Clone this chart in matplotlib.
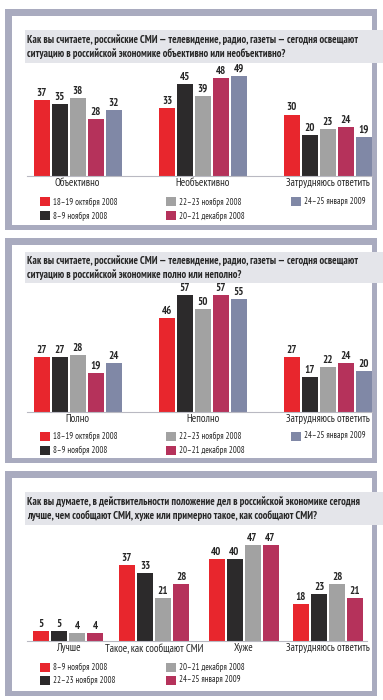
import matplotlib
matplotlib.use("Agg")
import matplotlib.pyplot as plt
from matplotlib.patches import Rectangle
from matplotlib import font_manager as fm
import numpy as np

# ---------------- data ----------------
q1_title = ("Как вы считаете, российские СМИ — телевидение, радио, газеты — сегодня освещают\n"
            "ситуацию в российской экономике объективно или необъективно?")
q1_categories = ["Объективно", "Необъективно", "Затрудняюсь ответить"]
q1_series = ["18–19 октября 2008", "8–9 ноября 2008", "22–23 ноября 2008",
             "20–21 декабря 2008", "24–25 января 2009"]
q1_oct18 = [37, 33, 30]
q1_nov8 = [35, 45, 20]
q1_nov22 = [38, 39, 23]
q1_dec20 = [28, 48, 24]
q1_jan24 = [32, 49, 19]

q2_title = ("Как вы считаете, российские СМИ — телевидение, радио, газеты — сегодня освещают\n"
            "ситуацию в российской экономике полно или неполно?")
q2_categories = ["Полно", "Неполно", "Затрудняюсь ответить"]
q2_series = ["18–19 октября 2008", "8–9 ноября 2008", "22–23 ноября 2008",
             "20–21 декабря 2008", "24–25 января 2009"]
q2_oct18 = [27, 46, 27]
q2_nov8 = [27, 57, 17]
q2_nov22 = [28, 50, 22]
q2_dec20 = [19, 57, 24]
q2_jan24 = [24, 55, 20]

q3_title = ("Как вы думаете, в действительности положение дел в российской экономике сегодня\n"
            "лучше, чем сообщают СМИ, хуже или примерно такое, как сообщают СМИ?")
q3_categories = ["Лучше", "Такое, как сообщают СМИ", "Хуже", "Затрудняюсь ответить"]
q3_series = ["8–9 ноября 2008", "22–23 ноября 2008", "20–21 декабря 2008", "24–25 января 2009"]
q3_nov8 = [5, 37, 40, 18]
q3_nov22 = [5, 33, 40, 23]
q3_dec20 = [4, 21, 47, 28]
q3_jan24 = [4, 28, 47, 21]

# ---------------- style ----------------
RED = "#e8262d"
BLACK = "#2c2a2b"
GREY = "#a2a2a2"
CRIMSON = "#b5325b"
BLUEGREY = "#8088a6"
FRAME = "#a9abbf"
BAND = "#e4e5ea"
TXT = "#262626"

installed = {f.name for f in fm.fontManager.ttflist}
narrow = None
for cand in ["PT Sans Narrow", "Roboto Condensed", "Fira Sans Condensed",
             "Archivo Narrow", "Liberation Sans Narrow"]:
    if cand in installed:
        narrow = cand
        break
FONT = ([narrow] if narrow else []) + ["DejaVu Sans"]
plt.rcParams["font.family"] = FONT

W, H = 383, 700
fig = plt.figure(figsize=(W / 100, H / 100), dpi=100)
fig.patch.set_facecolor("white")
renderer = fig.canvas.get_renderer()


def fr(x0, y0, x1, y1):
    return [x0 / W, 1 - y1 / H, (x1 - x0) / W, (y1 - y0) / H]


def rect(x0, y0, x1, y1, color, z=0):
    r = fr(x0, y0, x1, y1)
    fig.patches.append(Rectangle((r[0], r[1]), r[2], r[3], transform=fig.transFigure,
                                 facecolor=color, edgecolor="none", zorder=z))


def fit_size(text, target_px, weight="normal", base=8.0):
    t = fig.text(0, 0, text, fontsize=base, fontweight=weight)
    w = t.get_window_extent(renderer).width
    t.remove()
    return base * target_px / w


TITLE_SIZE = fit_size(q1_title.split("\n")[0], 331, "bold")
LABEL_SIZE = fit_size("Затрудняюсь ответить", 84)
LEG_SIZE = fit_size("18–19 октября 2008", 64)
VAL_SIZE = 7.8


def panel(top, bottom, band_top, band_bot, title):
    rect(5, top, 377, bottom, FRAME, 0)
    rect(12, top + 7, 372, bottom - 5, "white", 1)
    rect(25, band_top, 383, band_bot, BAND, 2)
    fig.text(27 / W, 1 - (band_top + (band_bot - band_top) / 2) / H, title,
             ha="left", va="center", fontsize=TITLE_SIZE, fontweight="bold",
             color=TXT, linespacing=1.3, zorder=3)


def chart(x0, x1, baseline, ymax, centers_px, cats, series_vals, colors, bar_px=16, step_px=18):
    scale = 2.05
    top = baseline - ymax * scale
    ax = fig.add_axes(fr(x0, top, x1, baseline))
    ax.set_zorder(5)
    ax.patch.set_alpha(0)
    ax.set_xlim(x0, x1)
    ax.set_ylim(0, ymax)
    n = len(series_vals)
    centers = np.array(centers_px, dtype=float)
    for i, (vals, c) in enumerate(zip(series_vals, colors)):
        xs = centers + (i - (n - 1) / 2) * step_px
        bars = ax.bar(xs, vals, width=bar_px, color=c, edgecolor="none")
        ax.bar_label(bars, labels=[str(v) for v in vals], padding=1.5,
                     fontsize=VAL_SIZE, fontweight="bold", color=TXT)
    for s in ["top", "left", "right"]:
        ax.spines[s].set_visible(False)
    ax.spines["bottom"].set_color("#b9b9c2")
    ax.spines["bottom"].set_linewidth(0.8)
    ax.set_yticks([])
    ax.set_xticks(centers)
    ax.set_xticklabels(cats, fontsize=LABEL_SIZE, color=TXT)
    ax.tick_params(axis="x", length=0, pad=1.5)
    return ax


def legend(labels, colors, rows_y, cols_x):
    for i, (lab, c) in enumerate(zip(labels, colors)):
        col, row = i // 2, i % 2
        x = cols_x[col]
        y = rows_y[row]
        rect(x, y - 4.5, x + 10, y + 4.5, c, 4)
        fig.text((x + 13) / W, 1 - y / H, lab, ha="left", va="center",
                 fontsize=LEG_SIZE, color=TXT, zorder=4)


c5 = [RED, BLACK, GREY, CRIMSON, BLUEGREY]
c4 = [RED, BLACK, GREY, CRIMSON]

# Panel 1
panel(9, 230, 30, 63, q1_title)
chart(27, 372, 176, 55, [77.5, 203, 327.5], q1_categories,
      [q1_oct18, q1_nov8, q1_nov22, q1_dec20, q1_jan24], c5)
legend(q1_series, c5, [202, 216], [40, 166, 291])

# Panel 2
panel(238, 463, 252, 283, q2_title)
chart(27, 372, 412, 60, [77.5, 203, 327.5], q2_categories,
      [q2_oct18, q2_nov8, q2_nov22, q2_dec20, q2_jan24], c5)
legend(q2_series, c5, [436, 450], [40, 166, 291])

# Panel 3
panel(471, 696, 492, 525, q3_title)
chart(27, 367, 641, 50, [68, 154, 243.5, 328], q3_categories,
      [q3_nov8, q3_nov22, q3_dec20, q3_jan24], c4)
legend(q3_series, c4, [667, 680], [40, 166])

fig.savefig("out.png", dpi=100, facecolor="white")
